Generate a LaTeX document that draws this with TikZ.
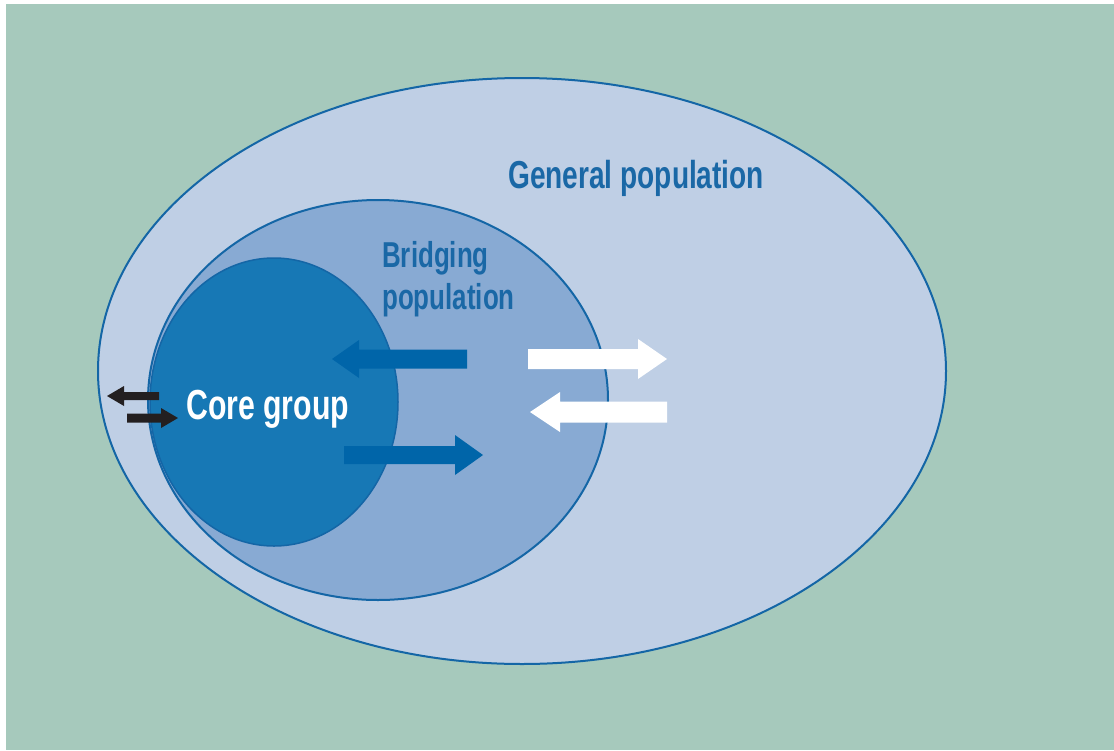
\documentclass[tikz,border=0pt]{standalone}
\usepackage{fontspec}
\newfontfamily\condfont{Liberation Sans}[FakeStretch=0.72]
\definecolor{bggreen}{HTML}{A6C9BC}
\definecolor{outerfill}{HTML}{BFCFE5}
\definecolor{midfill}{HTML}{88AAD3}
\definecolor{corefill}{HTML}{1778B5}
\definecolor{edgeblue}{HTML}{1466A6}
\definecolor{textblue}{HTML}{1A68A6}
\definecolor{arrowblue}{HTML}{0065A9}
\definecolor{arrowblack}{HTML}{231F20}
\newcommand{\myblockarrow}[8]{%
  \fill[#1] (#2,{#5-#6}) -- (#3,{#5-#6}) -- (#3,{#5-#7}) -- (#4,#5)
    -- (#3,{#5+#7}) -- (#3,{#5+#6}) -- (#2,{#5+#6}) -- cycle;}
\begin{document}
\begin{tikzpicture}[x=1pt,y=-1pt,
  region/.style={draw=edgeblue,line width=2pt},
  lbl/.style={font=\condfont\bfseries,inner sep=0pt,anchor=base west}]
\useasboundingbox (0,0) rectangle (1114,750);
\fill[white] (0,0) rectangle (1114,750);
\fill[bggreen] (6,4) rectangle (1114,750);
% general population
\path[region,fill=outerfill] (522,371) ellipse [x radius=424, y radius=293];
% bridging population
\path[region,fill=midfill] (378,400) ellipse [x radius=230, y radius=200];
% core group
\path[draw=edgeblue,line width=1.5pt,fill=corefill] (274,402) ellipse [x radius=124, y radius=144];
% arrows
\myblockarrow{arrowblack}{159}{124}{107}{396}{4}{10}{}
\myblockarrow{arrowblack}{127}{161}{178}{418}{4.5}{10}{}
\myblockarrow{arrowblue}{467}{359}{332}{359}{9.5}{19}{}
\myblockarrow{arrowblue}{344}{455}{483}{455}{9}{20}{}
\myblockarrow{white}{528}{638}{667}{359}{10}{20}{}
\myblockarrow{white}{667}{560}{530}{412}{10.5}{20}{}
% labels
\node[lbl,text=textblue,font=\condfont\bfseries\fontsize{39}{44}\selectfont] (gen) at (508,188) {General population};
\node[lbl,text=textblue,align=left,font=\condfont\bfseries\fontsize{36}{42}\selectfont] (bridge) at (382,309) {Bridging\\population};
\node[lbl,text=white,font=\condfont\bfseries\fontsize{42}{48}\selectfont] (core) at (186,419) {Core group};
\end{tikzpicture}
\end{document}
